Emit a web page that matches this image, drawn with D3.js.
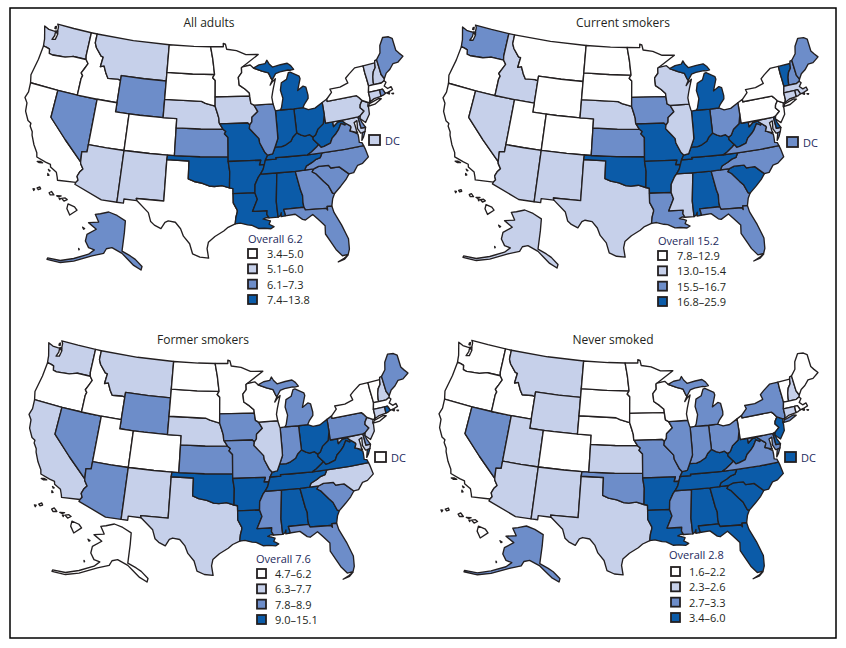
<!DOCTYPE html>
<html>
<head>
<meta charset="utf-8">
<script src="https://cdn.jsdelivr.net/npm/d3@7/dist/d3.min.js"></script>
<style>
  html, body { margin: 0; padding: 0; background: #fff; }
  text { font-family: "Open Sans", sans-serif; fill: #231f20; }
</style>
</head>
<body>
<svg id="chart" width="846" height="648"></svg>
<script>
// state outlines: "west-longitude latitude" pairs, "|" starts another polygon
var stateShapes = {
  WA: "122.75 49 120 49 117.03 49 117.04 46.42 116.92 46 118.98 46 119.3 45.93 120.2 45.72 121.2 45.65 122.2 45.57 122.75 45.65 122.9 46.1 123.4 46.2 123.95 46.25 124.05 46.7 124.1 47 124.4 47.7 124.7 48.38 123.9 48.16 123.1 48.15 122.75 48.15 122.7 47.7 122.95 47.2 122.45 47.3 122.35 47.7 122.3 47.95 122.45 48.3 122.5 48.75|123 48.65 122.85 48.72 122.8 48.45 123 48.45|122.75 48.2 122.4 48.25 122.35 47.95 122.55 48.05",
  OR: "123.95 46.25 123.4 46.2 122.9 46.1 122.75 45.65 122.2 45.57 121.2 45.65 120.2 45.72 119.3 45.93 118.98 46 116.92 46 116.47 45.6 116.85 45 117.2 44.45 116.9 44.2 117.03 43.83 117.03 42 120 42 124.2 42 124.5 42.85 124.1 44.7",
  CA: "124.2 42 120 42 120 39 117.3 37 114.63 35 114.57 34.8 114.14 34.3 114.5 33.9 114.72 33.4 114.5 33 114.72 32.72 117.12 32.53 117.25 32.85 117.5 33.35 118.4 33.75 118.5 34.03 119.2 34.15 120.5 34.45 120.65 34.9 121.3 35.65 121.9 36.6 122 36.95 122.5 37.5 122.5 37.8 123 38 123.7 38.9 123.85 39.8 124.35 40.3 124.1 41|120.3 34 119.9 34.08 119.55 34 120 33.92|118.6 33.45 118.35 33.35 118.45 33.3|118.55 33 118.35 32.85 118.5 32.8",
  NV: "120 42 117.03 42 114.04 42 114.04 37 114.04 36.2 114.74 36.1 114.63 35 117.3 37 120 39",
  ID: "117.03 49 116.05 49 116.05 48 115.7 47.5 114.7 46.7 114.35 46.65 114.5 45.55 113.95 45.7 113.45 44.95 113 44.45 111.5 44.55 111.05 44.48 111.05 42 114.04 42 117.03 42 117.03 43.83 116.9 44.2 117.2 44.45 116.85 45 116.47 45.6 116.92 46 117.04 46.42",
  MT: "116.05 49 110 49 104.05 49 104.05 45.95 104.05 45 107.5 45 111.05 45 111.05 44.48 111.5 44.55 113 44.45 113.45 44.95 113.95 45.7 114.5 45.55 114.35 46.65 114.7 46.7 115.7 47.5 116.05 48",
  WY: "111.05 45 107.5 45 104.05 45 104.05 43 104.05 41 107.5 41 109.05 41 111.05 41 111.05 42 111.05 44.48",
  UT: "114.04 42 111.05 42 111.05 41 109.05 41 109.05 37 111.5 37 114.04 37",
  CO: "109.05 41 107.5 41 104.05 41 102.05 41 102.05 40 102.05 37 103 37 105.5 37 109.05 37",
  AZ: "114.04 37 111.5 37 109.05 37 109.05 31.33 111.07 31.33 114.8 32.5 114.72 32.72 114.5 33 114.72 33.4 114.5 33.9 114.14 34.3 114.57 34.8 114.63 35 114.74 36.1 114.04 36.2",
  NM: "109.05 37 105.5 37 103 37 103.05 36.5 103.05 32 106.62 32 106.53 31.78 108.2 31.78 108.2 31.33 109.05 31.33",
  TX: "103.05 36.5 100 36.5 100 34.56 99.2 34.3 98.1 34.13 97.2 33.85 96.5 33.8 95.5 33.9 94.5 33.64 94.04 33.55 94.04 33 94.04 32 93.55 31.2 93.55 31 93.75 30.4 93.85 29.7 94.75 29.35 95.3 28.95 96.4 28.35 97.2 27.7 97.35 27 97.15 25.97 98.2 26.05 99.1 26.4 99.5 27.5 100.3 28.3 100.7 29.1 101.4 29.77 102.3 29.88 102.7 29.7 103.15 28.98 104 29.3 104.5 29.65 104.9 30.6 106.53 31.78 106.62 32 103.05 32",
  OK: "103 37 102.05 37 98.5 37 94.62 37 94.62 36.5 94.43 35.4 94.5 33.64 95.5 33.9 96.5 33.8 97.2 33.85 98.1 34.13 99.2 34.3 100 34.56 100 36.5 103.05 36.5",
  KS: "102.05 40 98.5 40 95.3 40 94.9 39.75 95.1 39.5 94.6 39.1 94.62 37 98.5 37 102.05 37",
  NE: "104.05 43 98.5 43 97.9 42.8 96.45 42.5 96.1 41.7 95.9 41.2 95.85 40.7 95.77 40.58 95.3 40 98.5 40 102.05 40 102.05 41 104.05 41",
  SD: "104.05 45.95 100 45.95 96.56 45.95 96.85 45.6 96.45 45.3 96.45 43.5 96.45 42.5 97.9 42.8 98.5 43 104.05 43",
  ND: "104.05 49 100 49 97.23 49 96.85 47.6 96.56 45.95 100 45.95 104.05 45.95",
  MN: "97.23 49 95.15 49 95.15 49.38 94.8 49.3 94.6 48.72 93 48.55 91.5 48.07 89.5 48 92.1 46.75 92.3 46.65 92.3 46.1 92.85 45.6 92.75 44.75 91.9 44.3 91.25 43.85 91.22 43.5 96.45 43.5 96.45 45.3 96.85 45.6 96.56 45.95 96.85 47.6",
  IA: "96.45 43.5 91.22 43.5 91.1 42.7 90.65 42.5 90.15 41.8 91.05 41.2 91.1 40.7 91.42 40.38 91.7 40.6 95.77 40.58 95.85 40.7 95.9 41.2 96.1 41.7 96.45 42.5",
  MO: "95.77 40.58 91.7 40.6 91.42 40.38 91.5 40 90.7 39.3 90.2 38.85 90.15 38.4 89.5 37.3 89.15 37 89.5 36.5 89.7 36 90.37 36 90.15 36.5 94.62 36.5 94.62 37 94.6 39.1 95.1 39.5 94.9 39.75 95.3 40",
  AR: "94.62 36.5 90.15 36.5 90.37 36 89.7 36 89.9 35.5 90.3 35 90.6 34.7 91.1 33.9 91.17 33 94.04 33 94.04 33.55 94.5 33.64 94.43 35.4",
  LA: "94.04 33 91.17 33 90.9 32.3 91.6 31 89.73 31 89.8 30.6 89.55 30.2 89.9 30.25 90.3 30.1 89.85 30 89.4 29.85 89.6 29.5 89 29.2 89.4 29 90.2 29.1 90.9 29.1 91.8 29.5 92.3 29.55 93.2 29.77 93.85 29.7 93.75 30.4 93.55 31 93.55 31.2 94.04 32",
  MS: "91.17 33 91.1 33.9 90.6 34.7 90.3 35 88.2 35 88.1 34.9 88.47 31.9 88.4 30.2 89.55 30.2 89.8 30.6 89.73 31 91.6 31 90.9 32.3",
  AL: "88.2 35 85.6 34.98 85.18 32.87 85 32.3 85.05 31.55 85 31 87.6 31 87.45 30.4 87.5 30.28 88 30.23 87.95 30.65 88.1 30.35 88.4 30.2 88.47 31.9 88.1 34.9",
  GA: "85.6 34.98 84.32 35 83.1 35 83.35 34.7 82.9 34.45 82 33.5 81.5 33 81.1 32.1 80.85 32.03 81.2 31.5 81.45 30.72 82.05 30.75 82.05 30.36 82.2 30.57 84.86 30.7 85 31 85.05 31.55 85 32.3 85.18 32.87",
  FL: "87.6 31 85 31 84.86 30.7 82.2 30.57 82.05 30.36 82.05 30.75 81.45 30.72 81.3 30 80.6 28.5 80.05 26.9 80.15 25.75 80.4 25.2 81.1 25.15 81.75 25.95 82.2 26.8 82.75 27.8 82.65 28.7 83.4 29.5 84 30.1 85 29.6 85.35 29.7 86.2 30.35 87.5 30.28 87.45 30.4|80.4 25.15 80.9 24.75 81.7 24.55 80.95 24.85",
  SC: "83.35 34.7 83.1 35 82.4 35.2 81.05 35.15 80.8 34.82 79.67 34.8 78.55 33.86 79.1 33.3 79.9 32.7 80.85 32.03 81.1 32.1 81.5 33 82 33.5 82.9 34.45",
  NC: "84.32 35 83.1 35 82.4 35.2 81.05 35.15 80.8 34.82 79.67 34.8 78.55 33.86 77.9 33.9 77.2 34.6 76.5 34.7 75.55 35.25 75.75 36.2 75.87 36.55 78.5 36.55 81.68 36.59 82 36.12 82.6 36 83.2 35.72 84.05 35.4",
  TN: "90.3 35 88.2 35 85.6 34.98 84.32 35 84.05 35.4 83.2 35.72 82.6 36 82 36.12 81.68 36.59 83.67 36.6 86.5 36.65 88.07 36.67 88.05 36.5 89.5 36.5 89.7 36 89.9 35.5",
  KY: "89.5 36.5 88.05 36.5 88.07 36.67 86.5 36.65 83.67 36.6 83.1 36.85 82.3 37.3 81.97 37.54 82.6 38.17 82.6 38.42 83 38.73 83.7 38.65 84.2 38.8 84.8 39.1 85.4 38.7 85.75 38.27 86.5 37.95 87.1 37.8 88.05 37.8 88.45 37.1 89.15 37",
  WV: "82.6 38.17 81.97 37.54 81.68 37.2 81.25 37.25 80.3 37.5 79.95 38 79.3 38.42 78.87 38.77 78.35 39.4 77.83 39.13 77.72 39.32 78.2 39.68 78.4 39.62 78.8 39.6 79.48 39.2 79.48 39.72 80.52 39.72 80.52 40.64 80.85 39.7 81.75 39.2 82.2 38.6 82.6 38.42",
  VA: "83.67 36.6 81.68 36.59 78.5 36.55 75.87 36.55 76 36.9 76.35 37 76.3 37.55 76.3 37.9 77 38.3 77.3 38.4 77.05 38.8 77.12 38.93 77.72 39.32 77.83 39.13 78.35 39.4 78.87 38.77 79.3 38.42 79.95 38 80.3 37.5 81.25 37.25 81.68 37.2 81.97 37.54 82.3 37.3 83.1 36.85|75.95 37.15 75.65 37.95 75.25 38.03 75.6 37.5",
  MD: "79.48 39.72 77.5 39.72 75.79 39.72 75.7 38.46 75.05 38.45 75.25 38.03 75.65 37.95 75.9 37.95 76.2 38.5 76.05 39.35 76.5 39.2 76.45 38.9 76.4 38.3 76.3 38.05 77 38.3 77.3 38.4 77.05 38.8 77.12 38.93 77.72 39.32 78.2 39.68 78.4 39.62 78.8 39.6 79.48 39.2",
  DE: "75.79 39.72 75.42 39.8 75.55 39.5 75.4 39.05 75.05 38.45 75.7 38.46",
  PA: "80.52 41.98 79.76 42.27 79.76 42 75.35 42 75.05 41.75 74.7 41.36 75.1 40.95 75.2 40.65 74.75 40.2 75.42 39.8 75.79 39.72 77.5 39.72 79.48 39.72 80.52 39.72 80.52 40.64",
  NJ: "74.7 41.36 73.9 41 74.05 40.65 74 40.45 74.1 39.75 74.9 38.95 75.55 39.5 75.42 39.8 74.75 40.2 75.2 40.65 75.1 40.95",
  NY: "79.76 42.27 79.76 42 75.35 42 75.05 41.75 74.7 41.36 73.9 41 73.65 41 73.5 41.3 73.5 42.05 73.25 42.75 73.3 43.6 73.35 44.2 73.35 45.01 74.7 45 75.8 44.45 76.4 44.1 76.2 43.55 77.5 43.27 79.05 43.27 78.9 42.9|74 40.6 73.75 40.85 72.3 41.15 71.9 41.05 73 40.65",
  VT: "73.35 45.01 71.5 45.01 71.6 44.5 72.05 44.1 72.3 43.6 72.45 43 72.46 42.73 73.25 42.75 73.3 43.6 73.35 44.2",
  NH: "71.5 45.01 71.4 45.25 71.08 45.3 71 43.6 70.7 43.07 70.82 42.87 71.3 42.7 72.46 42.73 72.45 43 72.3 43.6 72.05 44.1 71.6 44.5",
  ME: "71.08 45.3 70.3 45.9 70 46.7 69.23 47.46 68.3 47.35 67.8 47.07 67.8 45.7 67.45 45.3 67 44.85 68 44.4 68.8 44.4 69.5 43.9 70.2 43.6 70.7 43.07 71 43.6",
  MA: "73.5 42.05 73.25 42.75 72.46 42.73 71.3 42.7 70.82 42.87 70.6 42.65 71 42.3 70.6 41.95 70.05 42.05 69.95 41.7 70.65 41.55 71.12 41.5 71.38 42.02 71.8 42.02|70.8 41.45 70.5 41.45 70.6 41.33|70.2 41.32 69.95 41.28 70.05 41.22",
  CT: "73.5 42.05 71.8 42.02 71.85 41.32 72.9 41.25 73.65 41 73.5 41.3",
  RI: "71.8 42.02 71.38 42.02 71.12 41.5 71.5 41.37 71.85 41.32",
  OH: "84.8 41.73 83.45 41.73 82.7 41.45 81.7 41.5 80.52 41.98 80.52 40.64 80.85 39.7 81.75 39.2 82.2 38.6 82.6 38.42 83 38.73 83.7 38.65 84.2 38.8 84.8 39.1",
  IN: "87.53 41.72 86.8 41.76 84.8 41.73 84.8 39.1 85.4 38.7 85.75 38.27 86.5 37.95 87.1 37.8 88.05 37.8 87.55 38.7 87.53 39.35",
  IL: "87.8 42.5 90.65 42.5 90.15 41.8 91.05 41.2 91.1 40.7 91.42 40.38 91.5 40 90.7 39.3 90.2 38.85 90.15 38.4 89.5 37.3 89.15 37 88.45 37.1 88.05 37.8 87.55 38.7 87.53 39.35 87.53 41.72 87.6 41.85",
  WI: "92.1 46.75 92.3 46.65 92.3 46.1 92.85 45.6 92.75 44.75 91.9 44.3 91.25 43.85 91.22 43.5 91.1 42.7 90.65 42.5 87.8 42.5 87.9 43.2 87.7 43.8 87.5 44.3 87.1 45.2 87.6 44.9 88 44.55 87.6 45.1 87.8 45.35 88.1 45.9 89.1 46.15 90.4 46.55 90.9 46.9",
  MI: "90.4 46.55 89.1 46.15 88.1 45.9 87.8 45.35 87.6 45.1 87 45.75 86.3 45.9 85 46 84.7 45.95 84.1 46 84.5 46.45 85 46.75 86.1 46.67 87.4 46.5 87.9 46.9 88.2 47.3 88.5 46.95 89.5 46.85|86.8 41.76 84.8 41.73 83.45 41.73 83.15 42.1 82.5 42.65 82.45 43 82.6 43.9 83 44.05 83.9 43.65 83.3 44.9 83.4 45.2 84.7 45.75 85 45.7 85.4 45 86.25 44.7 86.5 43.9 86.25 43 86.6 42",
  HI: "155.9 20.25 155.1 19.9 154.8 19.5 155.7 18.95 156.05 19.7|156.7 20.9 156.25 20.95 156 20.75 156.4 20.58|157.3 21.2 156.75 21.18 157.05 21.08|157 20.9 156.85 20.9 156.9 20.75|158.25 21.55 157.95 21.7 157.65 21.3 158.1 21.3|159.75 22.1 159.4 22.22 159.3 22 159.6 21.9|160.25 22 160.05 21.98 160.15 21.8"
};

// Alaska inset is a squashed, tilted drawing in the source, so this one is a
// schematic outline, placed with two linear scales
var alaskaShape = "146.8 71.2 142.6 70 138.4 68.1 138.9 64 140.1 57.6 135.9 55.9 133.4 54.7 130 52.2 130.5 51 134.2 52.6 137.6 55 140.1 56.8 145.2 58.8 148 58.4 149.4 56.8 155.3 55.9 164.5 54.1 171.3 53.6 178 54.7 177.7 55.2 171.3 54.3 164.5 55 157 56.5 154.1 58 157 58.8 158.6 61.1 157.8 63.4 153.1 65.2 157 67.5 151.9 67.7 153.6 70.4 151 70.6|160 65.9 159 65.4 159.5 65.2|162 58.5 161.7 58.2 161.9 58";

var panelNames = ["All adults", "Current smokers", "Former smokers", "Never smoked"];
var overallValues = ["6.2", "15.2", "7.6", "2.8"];

var allAdultsRanges = ["3.4–5.0", "5.1–6.0", "6.1–7.3", "7.4–13.8"];
var currentRanges = ["7.8–12.9", "13.0–15.4", "15.5–16.7", "16.8–25.9"];
var formerRanges = ["4.7–6.2", "6.3–7.7", "7.8–8.9", "9.0–15.1"];
var neverRanges = ["1.6–2.2", "2.3–2.6", "2.7–3.3", "3.4–6.0"];

// states in each class, lowest to highest
var allAdultsClasses = [
  ["OR","CA","ID","UT","CO","ND","SD","MN","WI","TX","NY","MA","HI"],
  ["WA","MT","NE","IA","AZ","NM","PA","VT","NH","CT","NJ","MD","DC"],
  ["NV","WY","KS","IL","VA","NC","SC","GA","FL","AK","ME","RI","DE"],
  ["MI","IN","OH","WV","KY","TN","MO","AR","OK","LA","MS","AL"]
];
var currentClasses = [
  ["OR","CA","MT","WY","UT","CO","ND","SD","MN","NY","PA","NJ","HI"],
  ["ID","NV","AZ","NM","TX","NE","WI","IL","MS","AK","MA","CT","RI","MD"],
  ["WA","ME","NH","IA","KS","OH","VA","NC","GA","FL","LA","DC"],
  ["VT","MI","IN","WV","KY","TN","MO","AR","OK","AL","SC","DE"]
];
var formerClasses = [
  ["OR","ID","UT","CO","ND","SD","MN","WI","NY","VT","MA","AK","HI","DC"],
  ["WA","CA","MT","NE","IL","NM","TX","NC","NH","CT","NJ","MD"],
  ["ME","PA","IA","KS","MO","IN","MI","WY","NV","AZ","MS","SC","FL","DE"],
  ["OH","WV","VA","KY","TN","OK","AR","LA","AL","GA","RI"]
];
var neverClasses = [
  ["WA","OR","CA","ID","CO","ND","SD","NE","MN","IA","WI","PA","VT","ME","MA","RI","HI"],
  ["MT","WY","UT","AZ","NM","TX","KS","NH","CT"],
  ["NY","MI","OH","IN","IL","MO","OK","VA","MS","NV","AK","MD"],
  ["NJ","WV","KY","TN","NC","SC","GA","FL","AL","AR","LA","DC","DE"]
];

var classColors = ["#ffffff", "#c6d0ea", "#6d8dc9", "#0b5ba8"];
var lineColor = "#231f20";

// where each map sits on the page
var panels = [
  {ranges: allAdultsRanges, classes: allAdultsClasses, title: [209, 27],
    main: [[25, 18], [403, 268]], ak: [[47, 212], [142, 270]], hi: [[33, 185], [77, 217]],
    dc: [369, 135], overall: [248, 243], legend: [248, 249], labelX: 267},
  {ranges: currentRanges, classes: currentClasses, title: [623, 27],
    main: [[443, 18], [818, 268]], ak: [[463, 210], [558, 268]], hi: [[455, 187], [494, 217]],
    dc: [787, 137], overall: [658, 245], legend: [658, 251], labelX: 677},
  {ranges: formerRanges, classes: formerClasses, title: [203, 344],
    main: [[29, 335], [408, 585]], ak: [[52, 524], [148, 582]], hi: [[34, 503], [82, 533]],
    dc: [375, 452], overall: [256, 563], legend: [257, 569], labelX: 275},
  {ranges: neverRanges, classes: neverClasses, title: [613, 344],
    main: [[439, 335], [818, 584]], ak: [[464, 526], [560, 582]], hi: [[441, 508], [488, 538]],
    dc: [785, 452], overall: [669, 559], legend: [671, 567], labelX: 689}
];

function make_feature(code, shape){
  var polys = shape.split("|").map(function(part){
    var nums = part.trim().split(/\s+/).map(Number);
    var ring = [];
    for (var i = 0; i < nums.length; i += 2) ring.push([-nums[i], nums[i + 1]]);
    ring.push(ring[0].slice());
    // d3-geo wants the small side inside the ring
    if (d3.geoArea({type: "Polygon", coordinates: [ring]}) > 2 * Math.PI) ring.reverse();
    return [ring];
  });
  return {type: "Feature", id: code, geometry: {type: "MultiPolygon", coordinates: polys}};
}

var features = Object.keys(stateShapes).map(function(code){ return make_feature(code, stateShapes[code]); });
var lower48 = features.filter(function(f){ return f.id !== "HI"; });
var hawaii = features.filter(function(f){ return f.id === "HI"; });
var alaska = [make_feature("AK", alaskaShape)];

var svg = d3.select("#chart");

svg.append("rect")
  .attr("x", 10).attr("y", 8)
  .attr("width", 826).attr("height", 630)
  .attr("fill", "#fff")
  .attr("stroke", "#000")
  .attr("stroke-width", 1.5);

function draw_states(g, feats, projection, colorOf){
  var path = d3.geoPath(projection);
  g.selectAll(null)
    .data(feats)
    .enter().append("path")
    .attr("d", path)
    .attr("fill", function(d){ return classColors[colorOf.get(d.id)]; })
    .attr("stroke", lineColor)
    .attr("stroke-width", 1.35)
    .attr("stroke-linejoin", "round");
}

panels.forEach(function(p, idx){
  var g = svg.append("g");
  var colorOf = new Map();
  p.classes.forEach(function(list, c){
    list.forEach(function(code){ colorOf.set(code, c); });
  });

  var mainProj = d3.geoAlbers()
    .fitExtent(p.main, {type: "FeatureCollection", features: lower48});
  var hiProj = d3.geoConicEqualArea().rotate([157, 0]).center([0, 20]).parallels([8, 18])
    .fitExtent(p.hi, {type: "FeatureCollection", features: hawaii});

  var akX = d3.scaleLinear().domain([-178, -130]).range([p.ak[0][0], p.ak[1][0]]);
  var akY = d3.scaleLinear().domain([71.2, 51]).range([p.ak[0][1], p.ak[1][1]]);
  var akProj = d3.geoTransform({
    point: function(x, y){ this.stream.point(akX(x), akY(y)); }
  });

  draw_states(g, lower48, mainProj, colorOf);
  draw_states(g, alaska, akProj, colorOf);
  draw_states(g, hawaii, hiProj, colorOf);

  g.append("text")
    .attr("x", p.title[0]).attr("y", p.title[1])
    .attr("text-anchor", "middle")
    .attr("font-size", 12)
    .text(panelNames[idx]);

  // DC box
  g.append("rect")
    .attr("x", p.dc[0]).attr("y", p.dc[1])
    .attr("width", 11).attr("height", 10)
    .attr("fill", classColors[colorOf.get("DC")])
    .attr("stroke", lineColor).attr("stroke-width", 1.8);
  g.append("text")
    .attr("x", p.dc[0] + 16).attr("y", p.dc[1] + 10)
    .attr("font-size", 11)
    .style("fill", "#1c2a5c")
    .text("DC");

  g.append("text")
    .attr("x", p.overall[0]).attr("y", p.overall[1])
    .attr("font-size", 11)
    .style("fill", "#1c2a5c")
    .text("Overall " + overallValues[idx]);

  var y = d3.scalePoint().domain(d3.range(4)).range([0, 46]);
  var rows = g.selectAll(null)
    .data(p.ranges)
    .enter().append("g")
    .attr("transform", function(d, i){ return "translate(0," + (p.legend[1] + y(i)) + ")"; });
  rows.append("rect")
    .attr("x", p.legend[0]).attr("y", 0)
    .attr("width", 9).attr("height", 9)
    .attr("fill", function(d, i){ return classColors[i]; })
    .attr("stroke", lineColor).attr("stroke-width", 1.8);
  rows.append("text")
    .attr("x", p.labelX).attr("y", 9)
    .attr("font-size", 11)
    .text(function(d){ return d; });
});
</script>
</body>
</html>
